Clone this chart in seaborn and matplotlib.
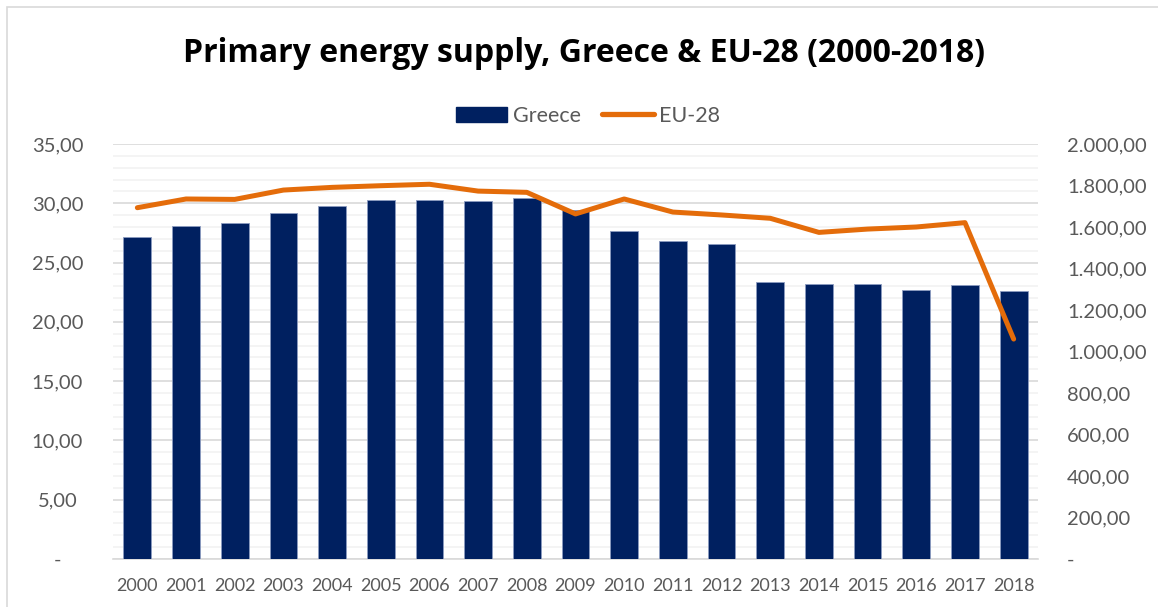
import numpy as np
import pandas as pd
import matplotlib
matplotlib.use("Agg")
import matplotlib.pyplot as plt
import seaborn as sns
from matplotlib.ticker import MultipleLocator, FuncFormatter, FixedLocator
from matplotlib.patches import Patch, Rectangle
from matplotlib.lines import Line2D

# Primary energy supply (Mtoe)
years = [str(y) for y in range(2000, 2019)]
greece = [27.12, 28.05, 28.36, 29.17, 29.74, 30.27, 30.24, 30.21, 30.46, 29.40,
          27.66, 26.79, 26.59, 23.38, 23.16, 23.21, 22.71, 23.10, 22.57]
eu28 = [1693, 1735, 1733, 1778, 1791, 1799, 1806, 1773, 1767, 1663,
        1735, 1672, 1658, 1642, 1574, 1590, 1600, 1621, 1060]

NAVY = "#002060"
ORANGE = "#E46C0A"
LABEL = "#595959"

sns.set_theme(style="white")
plt.rcParams["font.family"] = ["Lato", "DejaVu Sans"]

df = pd.DataFrame({"year": years, "greece": greece, "eu28": eu28})

W, H = 1158, 607
L, R, T, B = 113, 1038, 144, 559
fig = plt.figure(figsize=(W / 100, H / 100), dpi=100)
ax = fig.add_axes([L / W, 1 - B / H, (R - L) / W, (B - T) / H])

sns.barplot(data=df, x="year", y="greece", color=NAVY, width=0.57,
            saturation=1, ax=ax, edgecolor="#8c9bc0", linewidth=0.6, zorder=3)

ax2 = ax.twinx()
sns.lineplot(x=np.arange(len(df)), y=df["eu28"].to_numpy(), ax=ax2,
             color=ORANGE, linewidth=3.6, solid_capstyle="round",
             solid_joinstyle="round")

n = len(years)
for a in (ax, ax2):
    a.set_xlim(-0.5, n - 0.5)
    a.set_xlabel("")
    a.set_ylabel("")
    for s in a.spines.values():
        s.set_visible(False)

ax.set_ylim(0, 35)
ax2.set_ylim(0, 2000)


def eu_fmt(v, pos):
    if abs(v) < 1e-9:
        return "-"
    s = f"{v:,.2f}"
    return s.replace(",", "X").replace(".", ",").replace("X", ".")


ax.yaxis.set_major_locator(MultipleLocator(5))
ax.yaxis.set_minor_locator(MultipleLocator(1))
ax.yaxis.set_major_formatter(FuncFormatter(eu_fmt))
ax2.yaxis.set_major_locator(MultipleLocator(200))
ax2.yaxis.set_major_formatter(FuncFormatter(eu_fmt))

ax.grid(False)
ax2.grid(False)
ax.grid(which="major", axis="y", color="#D9D9D9", linewidth=1.2, zorder=0)
ax.grid(which="minor", axis="y", color="#F2F2F2", linewidth=1.2, zorder=0)
ax.set_axisbelow(True)

ax.spines["bottom"].set_visible(True)
ax.spines["bottom"].set_color("#D9D9D9")
ax.spines["bottom"].set_linewidth(1.2)

# category labels without marks, separator ticks between categories
ax.xaxis.set_major_locator(FixedLocator(np.arange(n)))
ax.set_xticklabels(years)
ax.xaxis.set_minor_locator(FixedLocator(np.arange(n + 1) - 0.5))
ax.tick_params(axis="x", which="major", length=0, pad=14, labelsize=13,
               labelcolor=LABEL)
ax.tick_params(axis="x", which="minor", length=6, width=1.2, color="#D9D9D9",
               direction="out")

ax.tick_params(axis="y", which="both", length=0)
ax.tick_params(axis="y", which="major", pad=40, labelsize=14.5, labelcolor=LABEL)
for lbl in ax.get_yticklabels():
    lbl.set_horizontalalignment("center")

ax2.tick_params(axis="y", which="both", length=0, pad=21, labelsize=14.5,
                labelcolor=LABEL)
ax2.tick_params(axis="x", which="both", length=0)

fig.text(584 / W, 1 - 62 / H, "Primary energy supply, Greece & EU-28 (2000-2018)",
         ha="center", va="baseline", fontsize=23, fontweight="bold",
         color="black", family=["Open Sans", "DejaVu Sans"])

handles = [Patch(facecolor=NAVY, edgecolor=NAVY),
           Line2D([0], [0], color=ORANGE, linewidth=3.8, solid_capstyle="round")]
fig.legend(handles, ["Greece", "EU-28"], loc="center",
           bbox_to_anchor=(588 / W, 1 - 116 / H), ncol=2, frameon=False,
           fontsize=15.5, labelcolor=LABEL, handlelength=2.4, handleheight=0.7,
           handletextpad=0.25, columnspacing=1.0)

fig.patches.append(Rectangle((7.5 / W, -0.1), 1.2, 1.1 - 7.5 / H,
                             transform=fig.transFigure, fill=False,
                             edgecolor="#D9D9D9", linewidth=1.2))

fig.savefig("out.png", dpi=100)
